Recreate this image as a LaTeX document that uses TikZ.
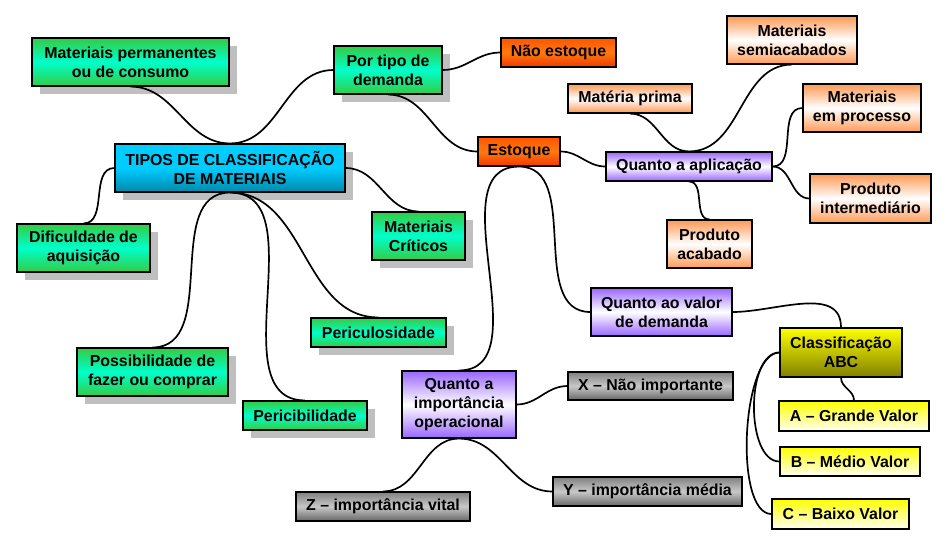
\documentclass[tikz,border=0pt]{standalone}
\usepackage{fontspec}
\setmainfont{Liberation Sans}
\usetikzlibrary{shadows}
\definecolor{verdeA}{HTML}{33CC44}
\definecolor{verdeB}{HTML}{00FFCC}
\definecolor{azulA}{HTML}{00CCFF}
\definecolor{azulB}{HTML}{0088AA}
\definecolor{laranjaA}{HTML}{FF5500}
\definecolor{laranjaM}{HTML}{FF7A10}
\definecolor{laranjaB}{HTML}{F03800}
\definecolor{pessego}{HTML}{FF9955}
\definecolor{roxo}{HTML}{9966FF}
\definecolor{cinzaA}{HTML}{808080}
\definecolor{cinzaB}{HTML}{C8C8C8}
\definecolor{oliva}{HTML}{808000}
\tikzset{
  caixa/.style={rectangle,draw=black,line width=0.8pt,align=center,inner sep=1pt,
    font=\bfseries\fontsize{11.3}{13.4}\selectfont},
  tam/.style 2 args={minimum width=#1*0.025cm,minimum height=#2*0.025cm},
  sombra/.style={drop shadow={shadow xshift=0.2cm,shadow yshift=-0.2cm,fill=black!25,opacity=1}},
  verde/.style={caixa,sombra,top color=verdeA,bottom color=verdeA,middle color=verdeB},
  azul/.style={caixa,sombra,top color=azulA,bottom color=azulB,middle color=azulA},
  laranja/.style={caixa,top color=laranjaA,bottom color=laranjaB,middle color=laranjaM},
  pessegobox/.style={caixa,top color=pessego,bottom color=pessego,middle color=white},
  roxobox/.style={caixa,top color=roxo,bottom color=roxo,middle color=white},
  cinza/.style={caixa,top color=cinzaA,bottom color=cinzaA!80!black,middle color=cinzaB},
  olivabox/.style={caixa,top color=yellow,bottom color=oliva},
  amarelo/.style={caixa,top color=yellow,bottom color=yellow!5},
}

\begin{document}
\begin{tikzpicture}[x=0.025cm,y=-0.025cm]
\useasboundingbox (0,0) rectangle (946,547);
% ramo da esquerda
\node[azul,tam={230}{48}] (tipos) at (230,168) {TIPOS DE CLASSIFICAÇÃO\\DE MATERIAIS};
\node[verde,tam={197}{48}] (perm) at (130.5,62) {Materiais permanentes\\ou de consumo};
\node[verde,tam={108}{48}] (demanda) at (388,70) {Por tipo de\\demanda};
\node[verde,tam={133}{48}] (dific) at (83.5,248) {Dificuldade de\\aquisição};
\node[verde,tam={93}{48}] (criticos) at (418.5,236) {Materiais\\Críticos};
\node[verde,tam={135}{29}] (pericul) at (378.5,332.5) {Periculosidade};
\node[verde,tam={151}{48}] (possib) at (152.5,372) {Possibilidade de\\fazer ou comprar};
\node[verde,tam={124}{29}] (pericib) at (305,415.5) {Pericibilidade};
% demanda
\node[laranja,tam={115}{29}] (naoest) at (558.5,52.5) {Não estoque};
\node[laranja,tam={82}{29}] (estoque) at (519,151.5) {Estoque};
% aplicacao
\node[roxobox,tam={166}{29}] (aplic) at (689,166.5) {Quanto a aplicação};
\node[pessegobox,tam={130}{48}] (semi) at (792,40) {Materiais\\semiacabados};
\node[pessegobox,tam={124}{29}] (prima) at (630,98.5) {Matéria prima};
\node[pessegobox,tam={118}{48}] (processo) at (862,108) {Materiais\\em processo};
\node[pessegobox,tam={121}{49}] (interm) at (870.5,198.5) {Produto\\intermediário};
\node[pessegobox,tam={85}{48}] (acabado) at (709.5,244) {Produto\\acabado};
% valor e importancia
\node[roxobox,tam={141}{48}] (valor) at (661.5,312) {Quanto ao valor\\de demanda};
\node[roxobox,tam={114}{67}] (import) at (459,404.5) {Quanto a\\importância\\operacional};
\node[cinza,tam={165}{28}] (xnode) at (650.5,386) {X – Não importante};
\node[cinza,tam={189}{29}] (ynode) at (647.5,491.5) {Y – importância média};
\node[cinza,tam={174}{29}] (znode) at (383,506.5) {Z – importância vital};
\node[olivabox,tam={122}{49}] (abc) at (841,352.5) {Classificação\\ABC};
\node[amarelo,tam={150}{30}] (aval) at (854,416) {A – Grande Valor};
\node[amarelo,tam={140}{29}] (bval) at (850,461.5) {B – Médio Valor};
\node[amarelo,tam={137}{30}] (cval) at (840.5,514) {C – Baixo Valor};

\begin{scope}[every edge/.style={draw=black,line width=1.2pt}]
    \path (tipos.north) edge [out=180,in=0] (perm.south);
    \path (tipos.north) edge [out=0,in=180] (demanda.west);
    \path (tipos.west) edge [out=180,in=0] (dific.north);
    \path (tipos.east) edge [out=0,in=180] (criticos.north);
    \path (tipos.south) edge [out=180,in=0] (possib.north);
    \path (tipos.south) edge [out=0,in=180] (pericib.north);
    \path (tipos.south) edge [out=0,in=180] (pericul.north);

    \path (demanda.east) edge [out=0,in=180] (naoest.west);
    \path (demanda.south) edge [out=0,in=180] (estoque.west);

    \path (estoque.east) edge [out=0,in=180] (aplic.west);
    \path (estoque.south) edge [out=0,in=180] (valor.west);
    \path (estoque.south) edge [out=180,in=0] (import.north);

    \path (aplic.north) edge [out=180,in=0] (prima.south);
    \path (aplic.north) edge [out=0,in=180] (semi.south);
    \path (aplic.east) edge [out=0,in=180] (processo.west);
    \path (aplic.east) edge [out=0,in=180] (interm.west);
    \path (aplic.south) edge [out=0,in=180] (acabado.north);

    \path (valor.east) edge [out=0,in=90] (abc.north);
    \path (abc.south) edge [out=270,in=90] (aval.north);
    \path (abc.west) edge [out=180,in=180,looseness=0.8] (bval.west);
    \path (abc.west) edge [out=180,in=180,looseness=0.6] (cval.west);

    \path (import.east) edge [out=0,in=180] (xnode.west);
    \path (import.south) edge [out=180,in=0] (znode.north);
    \path (import.south) edge [out=0,in=180] (ynode.west);
\end{scope}
\end{tikzpicture}
\end{document}
